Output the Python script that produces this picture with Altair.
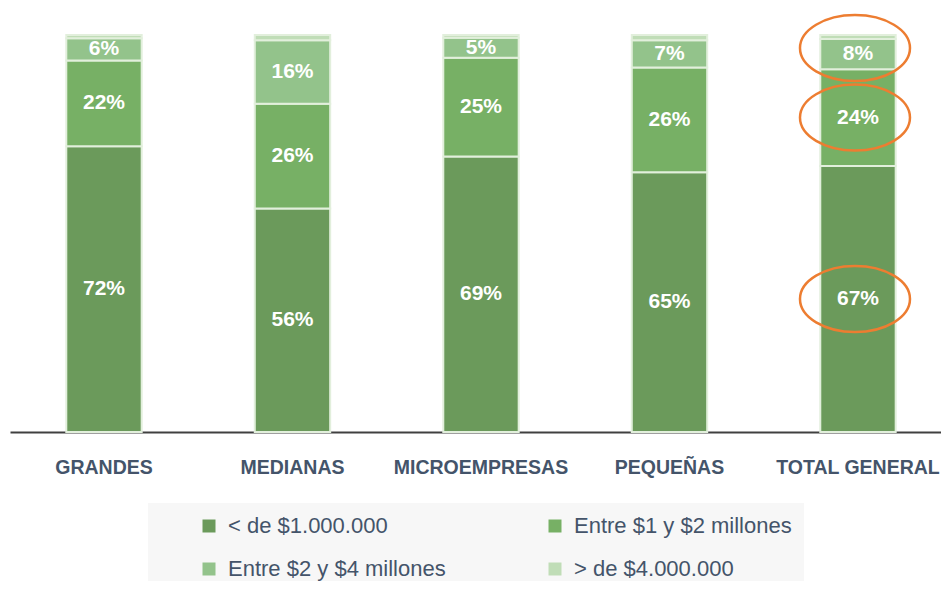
import altair as alt
import pandas as pd

categorias = ["GRANDES", "MEDIANAS", "MICROEMPRESAS", "PEQUEÑAS", "TOTAL GENERAL"]
tramos = ["< de $1.000.000", "Entre $1 y $2 millones", "Entre $2 y $4 millones", "> de $4.000.000"]

menos_1m = [72.0, 56.3, 69.4, 65.4, 67.0]
entre_1_2 = [21.6, 26.4, 24.9, 26.4, 24.4]
entre_2_4 = [5.6, 16.0, 5.0, 6.9, 7.6]
mas_4m = [0.8, 1.3, 0.7, 1.3, 1.0]

colores = ["#6B9A5B", "#77B065", "#93C38B", "#C0DDB7"]
resaltada = "TOTAL GENERAL"

series = [menos_1m, entre_1_2, entre_2_4, mas_4m]
rows = []
for t, vals in zip(tramos, series):
    for c, v in zip(categorias, vals):
        rows.append({"categoria": c, "tramo": t, "valor": v})
df = pd.DataFrame(rows)

FONT = "Liberation Sans"
tramos_js = "[" + ",".join("'" + t + "'" for t in tramos) + "]"

base = alt.Chart(df).transform_calculate(
    orden=f"indexof({tramos_js}, datum.tramo)"
).transform_stack(
    stack="valor", groupby=["categoria"], as_=["y0", "y1"],
    sort=[alt.SortField("orden", order="ascending")]
).transform_calculate(
    ymid="(datum.y0 + datum.y1) / 2"
)

xenc = alt.X(
    "categoria:N", sort=categorias,
    scale=alt.Scale(paddingInner=0.6, paddingOuter=0.2695, align=0.554),
    axis=alt.Axis(
        title=None, labelAngle=0, ticks=False, domainColor="#404040", domainWidth=2,
        labelFont=FONT, labelFontSize=19.5, labelFontWeight="bold", labelColor="#44546A",
        labelPadding=26, grid=False, labelLimit=0,
    ),
)
yscale = alt.Scale(domain=[0, 100])

bars = base.mark_bar(stroke="#E2EFDC", strokeWidth=2).encode(
    x=xenc,
    y=alt.Y("y0:Q", scale=yscale, axis=None),
    y2="y1:Q",
    color=alt.Color(
        "tramo:N",
        scale=alt.Scale(domain=tramos, range=colores),
        legend=alt.Legend(
            title=" ", titleOrient="left", titleFontSize=1, titlePadding=38,
            orient="none", legendX=138, legendY=468, columns=2,
            columnPadding=98, rowPadding=21, symbolType="square", symbolSize=169,
            symbolStrokeWidth=0, labelFont=FONT, labelFontSize=22, labelColor="#44546A",
            labelOffset=8, labelLimit=0, fillColor="#F7F7F7", padding=12,
            direction="horizontal",
        ),
    ),
)

labels = base.transform_filter(
    alt.datum.tramo != tramos[3]
).transform_calculate(
    etiqueta="format(datum.valor, '.0f') + '%'"
).mark_text(
    color="white", font=FONT, fontSize=21, fontWeight="bold", baseline="middle"
).encode(
    x=alt.X("categoria:N", sort=categorias),
    y=alt.Y("ymid:Q", scale=yscale),
    text="etiqueta:N",
)

elipse_path = "M-1,0 A1,0.6 0 1,1 1,0 A1,0.6 0 1,1 -1,0 Z"
ellipses = base.transform_filter(
    (alt.datum.categoria == resaltada) & (alt.datum.tramo != tramos[3])
).mark_point(
    shape=elipse_path, filled=False, stroke="#ED7D31", strokeWidth=2.5, size=12100,
    opacity=1, xOffset=-3,
    yOffset=alt.expr(f"datum.tramo === '{tramos[2]}' ? -6 : 0"),
).encode(
    x=alt.X("categoria:N", sort=categorias),
    y=alt.Y("ymid:Q", scale=yscale),
)

chart = alt.layer(bars, labels, ellipses).properties(
    width=931, height=397,
    background="white",
    autosize=alt.AutoSizeParams(type="none"),
    padding={"left": 2, "top": 27, "right": 0, "bottom": 149},
).configure_view(stroke=None, strokeWidth=0)

chart.save("out.html", embed_options={"renderer": "svg", "actions": False})
